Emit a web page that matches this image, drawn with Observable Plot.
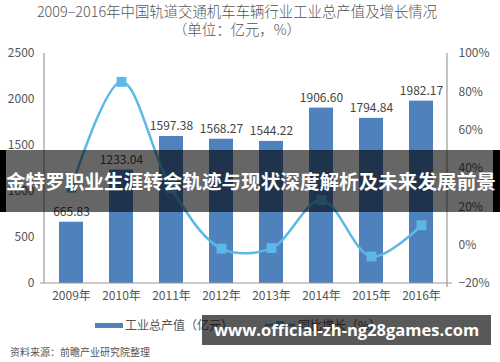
<!DOCTYPE html>
<html>
<head>
<meta charset="utf-8">
<script src="https://cdn.jsdelivr.net/npm/d3@7"></script>
<script src="https://cdn.jsdelivr.net/npm/@observablehq/plot@0.6"></script>
<style>
  html, body { margin: 0; padding: 0; background: #fff; }
  #wrap { position: relative; width: 500px; height: 362px; overflow: hidden; font-family: "Noto Sans CJK SC", "Noto Sans", sans-serif; color: #555; }
  #wrap svg { position: absolute; left: 0; top: 0; }
  .abs { position: absolute; white-space: nowrap; }
</style>
</head>
<body>
<div id="wrap"></div>
<script>
const years = ["2009", "2010", "2011", "2012", "2013", "2014", "2015", "2016"];
const output = [665.83, 1233.04, 1597.38, 1568.27, 1544.22, 1906.60, 1794.84, 1982.17];
const growth = [30, 85.2, 29.5, -1.8, -1.5, 23.5, -5.9, 10.4];
const leftTicks = [0, 500, 1000, 1500, 2000, 2500];
const rightTicks = [-20, 0, 20, 40, 60, 80, 100];

const title = "2009–2016年中国轨道交通机车车辆行业工业总产值及增长情况";
const subtitle = "（单位：亿元，%）";
const legendBar = "工业总产值（亿元）";
const legendLine = "同比增长（%）";
const source = "资料来源：前瞻产业研究院整理";
const banner = "金特罗职业生涯转会轨迹与现状深度解析及未来发展前景";
const watermark = "www.official-zh-ng28games.com";

const barColor = "#4f81bd";
const lineColor = "#5bb8e8";

// map growth (-20..100) onto output scale (0..2500)
const g2y = g => (g + 20) / 120 * 2500;
const y2g = v => Math.round(v / 2500 * 120 - 20);

const rows = years.map((y, i) => ({year: y, output: output[i], growth: growth[i], gy: g2y(growth[i])}));

const chart = Plot.plot({
  width: 500,
  height: 362,
  marginTop: 53,
  marginBottom: 79,
  marginLeft: 44,
  marginRight: 53,
  style: {fontFamily: "'Noto Sans CJK SC', 'Noto Sans', sans-serif", fontSize: "12px", color: "#555", background: "transparent"},
  x: {domain: years, paddingInner: 0.52, paddingOuter: 0.22, label: null},
  y: {domain: [0, 2500], label: null},
  marks: [
    Plot.axisX({tickSize: 0, tickPadding: 8, tickFormat: d => d + "年", fill: "#555", fontSize: 12, label: null}),
    Plot.axisY({ticks: leftTicks, tickSize: 0, tickPadding: 10, tickFormat: d => String(d), fill: "#555", fontSize: 12, label: null}),
    Plot.axisY({anchor: "right", ticks: rightTicks.map(g2y), tickSize: 0, tickPadding: 11, fill: "#555", fontSize: 12, label: null,
      tickFormat: v => { const g = y2g(v); return (g < 0 ? "−" + Math.abs(g) : g) + "%"; }}),
    Plot.barY(rows, {x: "year", y: "output", fill: barColor}),
    Plot.text(rows, {x: "year", y: "output", text: d => d.output.toFixed(2), dy: -10, fill: "#444", fontSize: 12}),
    Plot.line(rows, {x: "year", y: "gy", stroke: lineColor, strokeWidth: 2.5, curve: "catmull-rom"}),
    Plot.dot(rows, {x: "year", y: "gy", symbol: "square", r: 5.6, fill: lineColor, stroke: null})
  ]
});

const wrap = document.getElementById("wrap");
wrap.appendChild(chart);

// axis lines using chart scales
const xs = chart.scale("x").range;
const ys = chart.scale("y").range;
const svg = d3.select(chart);
const ax = svg.append("g").attr("stroke", "#9a9a9a").attr("stroke-width", 1.2);
ax.append("line").attr("x1", xs[0]).attr("x2", xs[0]).attr("y1", ys[1]).attr("y2", ys[0]);
ax.append("line").attr("x1", xs[1]).attr("x2", xs[1]).attr("y1", ys[1]).attr("y2", ys[0] + 4);
ax.append("line").attr("x1", xs[0] - 4).attr("x2", xs[1] + 5).attr("y1", ys[0]).attr("y2", ys[0]);

function addDiv(text, css) {
  const d = document.createElement("div");
  d.className = "abs";
  d.textContent = text;
  Object.assign(d.style, css);
  wrap.appendChild(d);
  return d;
}

addDiv(title, {left: "0", width: "474px", textAlign: "center", top: "2px", fontSize: "14.4px", lineHeight: "17px", color: "#555", fontWeight: "300"});
addDiv(subtitle, {left: "0", width: "474px", textAlign: "center", top: "20px", fontSize: "14.4px", lineHeight: "17px", color: "#555", fontWeight: "300"});

// legend
const lg1 = document.createElement("div");
lg1.className = "abs";
Object.assign(lg1.style, {left: "95px", top: "323px", width: "28px", height: "5px", background: barColor});
wrap.appendChild(lg1);
addDiv(legendBar, {left: "125px", top: "317px", fontSize: "12px", lineHeight: "16px", color: "#555"});
const lsvg = d3.select(wrap).append("svg").attr("width", 34).attr("height", 14)
  .style("left", "263px").style("top", "318px");
lsvg.append("line").attr("x1", 2).attr("x2", 32).attr("y1", 7).attr("y2", 7).attr("stroke", lineColor).attr("stroke-width", 2.5);
lsvg.append("rect").attr("x", 13).attr("y", 3).attr("width", 8).attr("height", 8).attr("fill", lineColor);
addDiv(legendLine, {left: "298px", top: "317px", fontSize: "12px", lineHeight: "16px", color: "#555"});

addDiv(source, {left: "10px", top: "345px", fontSize: "10px", lineHeight: "14px", color: "#555"});

// overlays
addDiv(banner, {left: "0", top: "150px", width: "487px", height: "62px", background: "rgba(0,0,0,0.6)",
  borderLeft: "6px solid #000", borderRight: "7px solid #000", color: "#fff", fontWeight: "bold",
  fontSize: "19.6px", lineHeight: "62px", textAlign: "center", letterSpacing: "0px"});
addDiv(watermark, {left: "202px", top: "315px", width: "289px", height: "30px", background: "rgba(0,0,0,0.65)",
  color: "#fff", fontWeight: "bold", fontSize: "16.5px", lineHeight: "30px", textAlign: "center",
  fontFamily: "'Open Sans', 'DejaVu Sans', sans-serif"});
</script>
</body>
</html>
